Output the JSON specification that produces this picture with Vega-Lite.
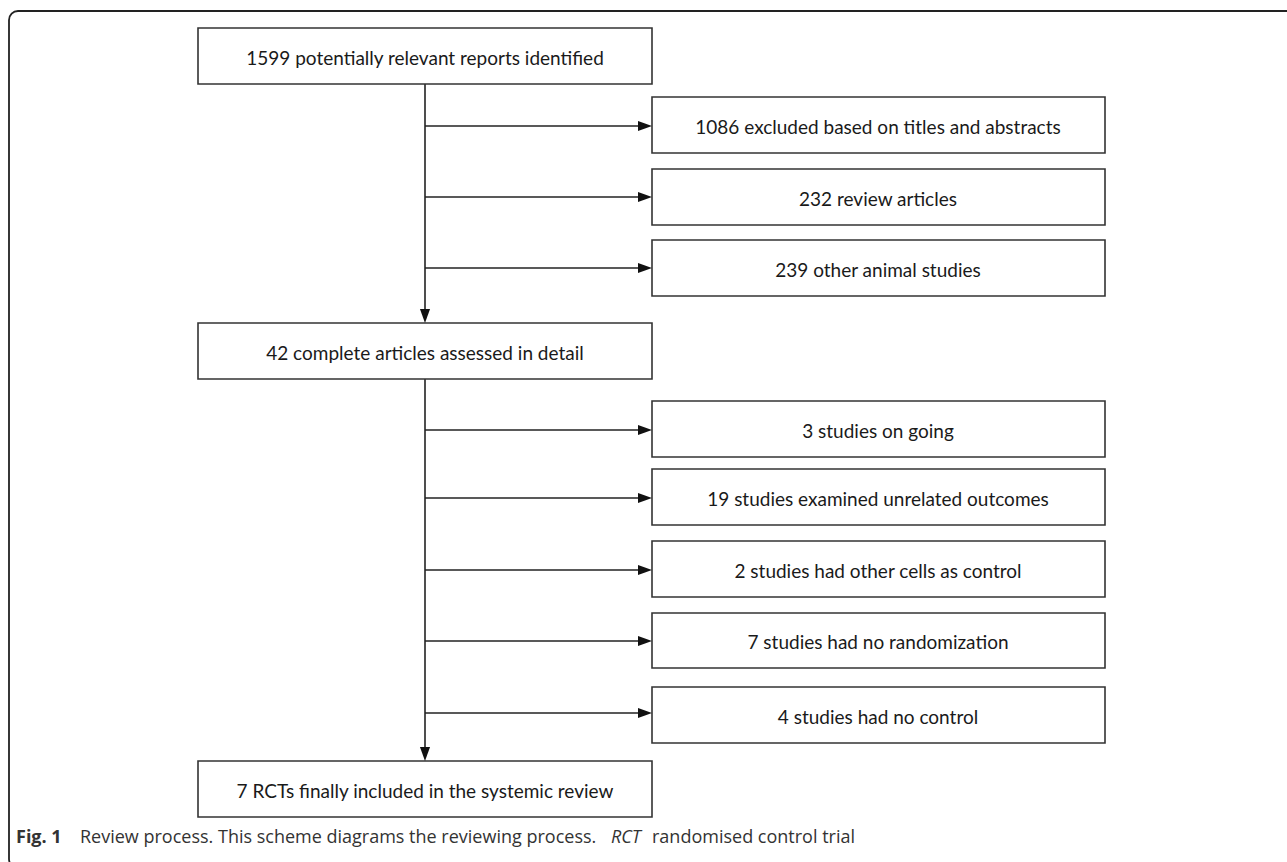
{
  "$schema": "https://vega.github.io/schema/vega-lite/v6.json",
  "width": 1287,
  "height": 862,
  "autosize": "none",
  "padding": 0,
  "background": "white",
  "config": {"view": {"stroke": null}},
  "datasets": {
    "boxes": [
      {"x1": 198, "x2": 652, "y1": 28, "y2": 84, "cx": 425, "cy": 56, "label": "1599 potentially relevant reports identified"},
      {"x1": 652, "x2": 1105, "y1": 97, "y2": 153, "cx": 878, "cy": 125, "label": "1086 excluded based on titles and abstracts"},
      {"x1": 652, "x2": 1105, "y1": 169, "y2": 225, "cx": 878, "cy": 197, "label": "232 review articles"},
      {"x1": 652, "x2": 1105, "y1": 240, "y2": 296, "cx": 878, "cy": 268, "label": "239 other animal studies"},
      {"x1": 198, "x2": 652, "y1": 323, "y2": 379, "cx": 425, "cy": 351, "label": "42 complete articles assessed in detail"},
      {"x1": 652, "x2": 1105, "y1": 401, "y2": 457, "cx": 878, "cy": 429, "label": "3 studies on going"},
      {"x1": 652, "x2": 1105, "y1": 469, "y2": 525, "cx": 878, "cy": 497, "label": "19 studies examined unrelated outcomes"},
      {"x1": 652, "x2": 1105, "y1": 541, "y2": 597, "cx": 878, "cy": 569, "label": "2 studies had other cells as control"},
      {"x1": 652, "x2": 1105, "y1": 613, "y2": 668, "cx": 878, "cy": 640, "label": "7 studies had no randomization"},
      {"x1": 652, "x2": 1105, "y1": 687, "y2": 743, "cx": 878, "cy": 715, "label": "4 studies had no control"},
      {"x1": 198, "x2": 652, "y1": 761, "y2": 817, "cx": 425, "cy": 789, "label": "7 RCTs finally included in the systemic review"}
    ],
    "lines": [
      {"x1": 425, "x2": 425, "y1": 84, "y2": 316},
      {"x1": 425, "x2": 425, "y1": 379, "y2": 754},
      {"x1": 425, "x2": 645, "y1": 126, "y2": 126},
      {"x1": 425, "x2": 645, "y1": 197, "y2": 197},
      {"x1": 425, "x2": 645, "y1": 268, "y2": 268},
      {"x1": 425, "x2": 645, "y1": 430, "y2": 430},
      {"x1": 425, "x2": 645, "y1": 498, "y2": 498},
      {"x1": 425, "x2": 645, "y1": 570, "y2": 570},
      {"x1": 425, "x2": 645, "y1": 641, "y2": 641},
      {"x1": 425, "x2": 645, "y1": 713, "y2": 713}
    ],
    "rightArrows": [
      {"x": 652, "y": 126}, {"x": 652, "y": 197}, {"x": 652, "y": 268},
      {"x": 652, "y": 430}, {"x": 652, "y": 498}, {"x": 652, "y": 570},
      {"x": 652, "y": 641}, {"x": 652, "y": 713}
    ],
    "downArrows": [
      {"x": 425, "y": 323}, {"x": 425, "y": 761}
    ],
    "frame": [
      {"x1": 9, "x2": 1300, "y1": 11, "y2": 868}
    ],
    "captionBold": [
      {"x": 16, "y": 843, "text": "Fig. 1"}
    ],
    "captionPlain": [
      {"x": 80, "y": 843, "text": "Review process. This scheme diagrams the reviewing process."},
      {"x": 652, "y": 843, "text": "randomised control trial"}
    ],
    "captionItalic": [
      {"x": 611, "y": 843, "text": "RCT"}
    ]
  },
  "layer": [
    {
      "data": {"name": "frame"},
      "mark": {"type": "rect", "fill": null, "stroke": "#222222", "strokeWidth": 1.8, "cornerRadius": 9},
      "encoding": {
        "x": {"field": "x1", "type": "quantitative", "scale": {"domain": [0, 1287], "nice": false, "zero": false}, "axis": null},
        "x2": {"field": "x2"},
        "y": {"field": "y1", "type": "quantitative", "scale": {"domain": [0, 862], "nice": false, "zero": false, "reverse": true}, "axis": null},
        "y2": {"field": "y2"}
      }
    },
    {
      "data": {"name": "lines"},
      "mark": {"type": "rule", "stroke": "#222222", "strokeWidth": 1.6},
      "encoding": {
        "x": {"field": "x1", "type": "quantitative", "axis": null},
        "x2": {"field": "x2"},
        "y": {"field": "y1", "type": "quantitative", "axis": null},
        "y2": {"field": "y2"}
      }
    },
    {
      "data": {"name": "boxes"},
      "mark": {"type": "rect", "fill": "white", "stroke": "#333333", "strokeWidth": 1.6},
      "encoding": {
        "x": {"field": "x1", "type": "quantitative", "axis": null},
        "x2": {"field": "x2"},
        "y": {"field": "y1", "type": "quantitative", "axis": null},
        "y2": {"field": "y2"}
      }
    },
    {
      "data": {"name": "boxes"},
      "mark": {"type": "text", "font": "Lato", "fontSize": 19, "color": "#1a1a1a", "baseline": "middle", "align": "center", "dy": 3},
      "encoding": {
        "x": {"field": "cx", "type": "quantitative", "axis": null},
        "y": {"field": "cy", "type": "quantitative", "axis": null},
        "text": {"field": "label"}
      }
    },
    {
      "data": {"name": "rightArrows"},
      "mark": {"type": "point", "shape": "M0,0 L-1,-0.36 L-1,0.36 Z", "size": 784, "filled": true, "fill": "#111111", "stroke": null, "opacity": 1},
      "encoding": {
        "x": {"field": "x", "type": "quantitative", "axis": null},
        "y": {"field": "y", "type": "quantitative", "axis": null}
      }
    },
    {
      "data": {"name": "downArrows"},
      "mark": {"type": "point", "shape": "M0,0 L-0.36,-1 L0.36,-1 Z", "size": 784, "filled": true, "fill": "#111111", "stroke": null, "opacity": 1},
      "encoding": {
        "x": {"field": "x", "type": "quantitative", "axis": null},
        "y": {"field": "y", "type": "quantitative", "axis": null}
      }
    },
    {
      "data": {"name": "captionBold"},
      "mark": {"type": "text", "font": "Open Sans", "fontSize": 18, "fontWeight": "bold", "color": "#333333", "align": "left", "baseline": "alphabetic"},
      "encoding": {
        "x": {"field": "x", "type": "quantitative", "axis": null},
        "y": {"field": "y", "type": "quantitative", "axis": null},
        "text": {"field": "text"}
      }
    },
    {
      "data": {"name": "captionPlain"},
      "mark": {"type": "text", "font": "Open Sans", "fontSize": 18, "color": "#333333", "align": "left", "baseline": "alphabetic"},
      "encoding": {
        "x": {"field": "x", "type": "quantitative", "axis": null},
        "y": {"field": "y", "type": "quantitative", "axis": null},
        "text": {"field": "text"}
      }
    },
    {
      "data": {"name": "captionItalic"},
      "mark": {"type": "text", "font": "Open Sans", "fontSize": 18, "fontStyle": "italic", "color": "#333333", "align": "left", "baseline": "alphabetic"},
      "encoding": {
        "x": {"field": "x", "type": "quantitative", "axis": null},
        "y": {"field": "y", "type": "quantitative", "axis": null},
        "text": {"field": "text"}
      }
    }
  ]
}
